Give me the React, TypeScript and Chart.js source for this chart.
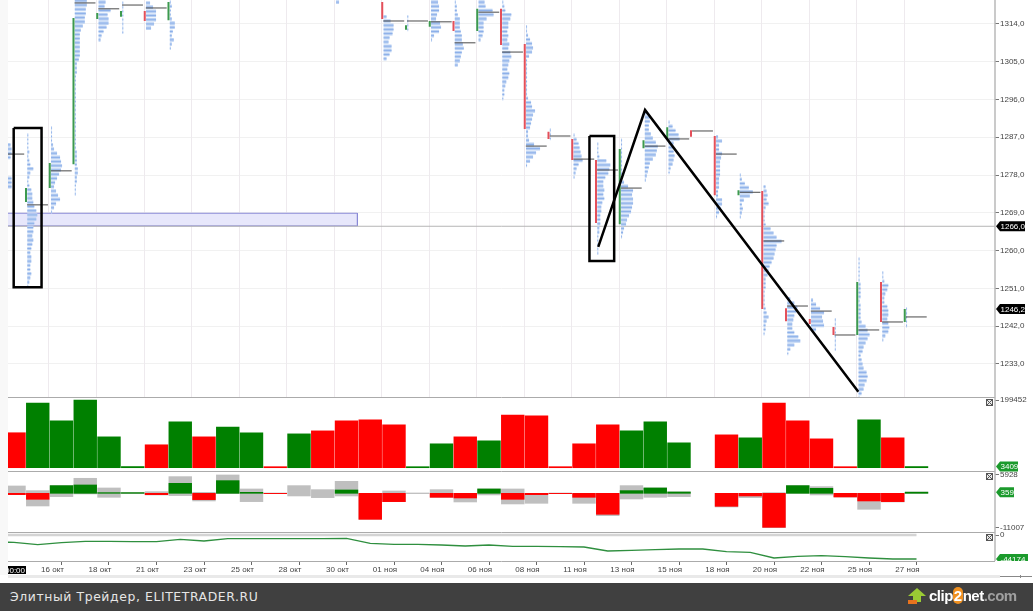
import React, { useEffect, useRef } from "react";
import { Chart, registerables } from "chart.js";

Chart.register(...registerables);

// ---- axes / categories
const dayTickIndex = [2, 4, 6, 8, 10, 12, 14, 16, 18, 20, 22, 24, 26, 28, 30, 32, 34, 36, 38];
const dayTickLabels = ["16 окт", "18 окт", "21 окт", "23 окт", "25 окт", "28 окт", "30 окт", "01 ноя", "04 ноя", "06 ноя", "08 ноя", "11 ноя", "13 ноя", "15 ноя", "18 ноя", "20 ноя", "22 ноя", "25 ноя", "27 ноя"];
const priceTicks = [1314, 1305, 1296, 1287, 1278, 1269, 1260, 1251, 1242, 1233];
const volumeTicks = [199452];
const deltaTicks = [5928, -11007];
const cumTicks = [0];

// ---- volume panel
const volumeValues = [103000, 190600, 137900, 199452, 90900, 3400, 67500, 134900, 90900, 120000, 102700, 3000, 99700, 108500, 137900, 140800, 126100, 3000, 70400, 90900, 79200, 155400, 152500, 3000, 70400, 126100, 108500, 134900, 73300, null, 96800, 88000, 190600, 137900, 85000, 3000, 140800, 88000, 3409];
const volumeUp = ["r", "g", "g", "g", "g", "g", "r", "g", "r", "g", "g", "r", "g", "r", "r", "r", "r", "g", "g", "r", "g", "r", "r", "r", "r", "r", "g", "g", "g", "x", "r", "g", "r", "r", "r", "r", "g", "r", "g"];

// ---- delta panel
const deltaNet = [-424, -1908, 2438, 2650, 212, 212, -424, 3180, -2014, 4028, 318, -100, null, null, 1060, -8268, -2650, null, -1272, -1484, 1378, -1908, -424, -100, -1272, -6678, 848, 1696, 424, null, -4134, -848, -10812, 2438, 1590, -1166, -2438, -2650, 359];
const deltaHigh = [2332, 848, 2438, 4770, 1696, 212, 530, 5300, 318, 5830, 1378, 106, 2438, 1166, 3816, 0, 742, 106, 1166, 0, 1378, 1378, 0, 106, 0, 0, 2438, 1696, 424, null, 0, 0, 212, 2438, 2120, 0, 0, 0, 424];
const deltaLow = [-318, -4028, -1060, -212, -1272, -106, -530, -742, -2438, -106, -2650, -106, -848, -1378, -848, -8268, -2650, -106, -1272, -2756, -530, -3392, -3180, -106, -3180, -7102, -1802, -1272, -1060, null, -4346, -1378, -10918, 0, -530, -1166, -5088, -2756, 0];

// ---- cumulative delta panel
const cumIndex = [-1, 0, 1, 2, 3, 4, 5, 6, 7, 8, 9, 10, 11, 12, 13, 14, 15, 16, 17, 18, 19, 20, 21, 22, 23, 24, 25, 26, 27, 28, 29, 30, 31, 32, 33, 34, 35, 36, 37, 38];
const cumValues = [-12800, -13497, -17792, -14111, -11657, -11657, -12270, -12270, -7976, -11043, -6749, -6749, -6749, -6749, -6749, -6135, -15338, -17178, -17178, -18405, -20246, -18405, -20859, -20859, -21473, -22086, -29448, -28221, -26994, -25767, -25767, -30675, -31902, -42332, -39264, -38037, -39878, -42332, -44174, -44174];
const cumBandValue = 0;

// ---- session candles (open-close body)
const candleIndex = [1, 2, 3, 4, 5, 6, 7, 16, 17, 18, 19, 20, 21, 22, 23, 24, 25, 26, 27, 28, 29, 30, 31, 32, 33, 34, 35, 36, 37, 38];
const candleHigh = [1274.9, 1280.9, 1315.4, 1316.6, 1317.1, 1317.1, 1319.2, 1319.2, 1313.7, 1314.7, 1314.7, 1317.6, 1317.6, 1309.2, 1288.3, 1286.6, 1281.6, 1284.2, 1286.3, 1289.4, 1288.7, 1287.3, 1274.4, 1274.2, 1246.3, 1243.7, 1241.8, 1252.5, 1252.5, 1246.1];
const candleLow = [1271.6, 1274.9, 1280.6, 1315.2, 1315.7, 1314.7, 1314.9, 1315.2, 1312.6, 1313.3, 1312.3, 1312.3, 1309, 1289, 1286.6, 1281.6, 1266.6, 1266.3, 1284.4, 1286.8, 1287.1, 1273.2, 1273.2, 1246.1, 1243.2, 1242.5, 1239.9, 1239.9, 1243, 1243];
const candleDir = ["g", "g", "g", "g", "g", "r", "g", "r", "g", "g", "r", "g", "r", "r", "r", "r", "r", "g", "g", "g", "r", "r", "g", "r", "r", "r", "r", "g", "r", "g"];

// ---- point of control per session
const pocIndex = [0, 1, 2, 3, 4, 5, 6, 16, 17, 18, 19, 20, 21, 22, 23, 24, 25, 26, 27, 28, 29, 30, 31, 32, 33, 34, 35, 36, 37, 38];
const pocPrice = [1283, 1270.9, 1279, 1319, 1317.6, 1318.5, 1317.8, 1314.7, 1314.7, 1314.5, 1309.5, 1316.8, 1307.3, 1284.9, 1287.3, 1281.8, 1279.2, 1274.9, 1284.9, 1286.6, 1288.5, 1283, 1273.9, 1262.3, 1246.8, 1245.6, 1239.9, 1241.1, 1243, 1244.2];

// ---- volume profiles: session, top price, volume per 1-point row going down
const profileIndex = [0, 1, 2, 3, 4, 5, 6, 7, 14, 16, 17, 18, 19, 20, 21, 22, 23, 24, 25, 26, 27, 28, 30, 31, 32, 33, 34, 35, 36, 37, 38];
const profileTop = [1285.2, 1287.5, 1289.2, 1319.5, 1319.2, 1319, 1319, 1319.2, 1319.2, 1315.7, 1315.7, 1319.2, 1319.2, 1319.2, 1319.2, 1313.3, 1288.7, 1287.5, 1285.4, 1286.3, 1292.8, 1290.6, 1287.1, 1278, 1275.2, 1248.5, 1248.2, 1243.5, 1258, 1254.7, 1246.1];
const profileVolumes = [
  [7, 8, 8, 7, 0, 0, 0, 0, 8, 8, 8],
  [1, 1, 1, 1, 2, 1, 2, 3, 6, 3, 2, 1, 2, 4, 5, 5, 6, 7, 9, 10, 9, 7, 6, 6, 5, 6, 5, 4, 3, 4, 4, 3, 3, 4, 3, 2, 1],
  [1, 1, 1, 1, 2, 3, 6, 9, 10, 11, 10, 8, 6, 4, 3, 5, 7, 9, 5, 3, 1],
  [12, 12, 11, 11, 10, 10, 8, 6, 5, 5, 5, 5, 5, 5, 4, 2, 2, 2, 1, 1, 1, 1, 1, 1, 1, 1, 1, 1, 1, 1, 1, 1, 1, 1, 1, 1, 2, 2, 2, 2, 3, 3, 2, 2, 1, 1, 1],
  [7, 6, 12, 9, 10, 10, 8, 5, 3, 2],
  [1, 1, 1, 1, 1, 1, 1, 1],
  [4, 7, 10, 10, 10, 8, 5],
  [1, 2, 1, 1, 2, 5, 5, 3, 2, 4, 2, 1],
  [3],
  [3, 7, 10, 10, 9, 6, 5, 8, 8, 6, 3],
  [1, 1, 1, 1],
  [7, 8, 8, 6, 5, 9, 10, 8, 3, 1],
  [1, 2, 2, 3, 5, 5, 5, 6, 7, 7, 8, 9, 7, 6, 5, 3],
  [6, 7, 14, 15, 8, 5, 5, 5, 4, 2],
  [1, 2, 3, 9, 8, 6, 6, 5, 6, 5, 7, 6, 8, 9, 7, 6, 5, 7, 6, 4, 3, 2, 2, 1],
  [1, 1, 2, 4, 6, 7, 6, 3, 1, 1, 1, 1, 1, 1, 1, 1, 1, 2, 5, 6, 9, 7, 6, 5, 4, 2, 2, 3, 8, 14, 10, 7, 4, 1],
  [1, 1, 1],
  [1, 3, 5, 6, 7, 8, 9, 5, 3, 2, 1],
  [1, 1, 1, 2, 9, 13, 12, 11, 8, 6, 6, 7, 6, 7, 5, 4, 4, 3, 3, 3, 2, 2, 1, 1, 1, 1, 1],
  [1, 1, 1, 1, 1, 1, 1, 1, 1, 1, 3, 7, 12, 11, 12, 12, 11, 10, 8, 6, 5, 3, 2, 1],
  [3, 5, 5, 4, 4, 6, 8, 11, 13, 12, 11, 8, 5, 4, 3, 2, 1],
  [1, 4, 7, 10, 11, 5, 5, 5, 6, 5, 4, 2, 1],
  [2, 6, 3, 3, 6, 5, 4, 4, 4, 4, 3, 3, 3, 2, 2, 6, 6, 5, 3, 1],
  [1, 2, 5, 9, 13, 10, 4, 2, 3, 2, 1],
  [2, 3, 4, 3, 5, 2, 1, 1, 1, 2, 7, 10, 13, 18, 13, 12, 11, 10, 8, 6, 5, 4, 2, 2, 2, 1, 1, 1, 1, 2, 3, 5, 3, 2, 2, 1],
  [3, 7, 10, 9, 7, 6, 5, 5, 7, 11, 13, 7, 3, 1],
  [2, 5, 9, 13, 11, 12, 13, 5],
  [1, 1, 1, 1, 1, 1, 1, 1],
  [1, 1, 1, 1, 1, 1, 2, 2, 2, 2, 1, 2, 2, 2, 2, 3, 7, 9, 11, 9, 7, 5, 4, 2, 3, 4, 5, 8, 9, 8, 6, 5, 3, 1],
  [1, 1, 2, 6, 5, 3, 2, 2, 5, 6, 6, 5, 6, 7, 6, 3, 1],
  [1, 1, 1, 1, 1],
];

// ---- annotations on the price panel
const zoneStartIndex = -1;
const zoneEndIndex = 14.46;
const zoneTop = 1268.9;
const zoneBottom = 1265.9;
const levelPrice = 1265.8;
const boxOneIndex = [-0.013, 1.16];
const boxOnePrice = [1289.2, 1251.3];
const boxTwoIndex = [24.23, 25.27];
const boxTwoPrice = [1287.3, 1257.5];
const zigzagIndex = [24.6, 26.57, 35.55];
const zigzagPrice = [1260.9, 1293.5, 1226.4];
const gridIndex = [1.44, 3.45, 5.47, 7.47, 9.46, 11.46, 13.47, 15.47, 17.47, 19.47, 21.47, 23.47, 25.47, 27.47, 29.47, 31.47, 33.47, 35.47, 37.47];

const pillPrices = [levelPrice, 1246.1];
const pillPriceTexts = ["1266,0", "1246,2"];
const lastVolume = 3409;
const lastDelta = 359;
const lastCum = -44174;

// ---- drawing style constants
const GREEN = "#008000";
const RED = "#ff0000";
const GREY = "#bfbfbf";
const AXIS_FONT = { family: "'Liberation Sans', Arial, sans-serif", size: 8 };
const DAY_PX = 23.75;
const EDGE = -0.44;
const volUnit = 1 / DAY_PX;

type Pt = { x: number; y: number };

function segs(list: [number, number, number, number][]): Pt[] {
  const out: Pt[] = [];
  list.forEach(([x1, y1, x2, y2]) => {
    out.push({ x: x1, y: y1 }, { x: x2, y: y2 }, { x: x2, y: NaN });
  });
  return out;
}

function rect(xs: number[], ys: number[]): Pt[] {
  return [
    { x: xs[0], y: ys[0] },
    { x: xs[1], y: ys[0] },
    { x: xs[1], y: ys[1] },
    { x: xs[0], y: ys[1] },
    { x: xs[0], y: ys[0] },
  ];
}

const lineBase = {
  type: "line",
  xAxisID: "x",
  yAxisID: "yMain",
  pointRadius: 0,
  pointHoverRadius: 0,
  tension: 0,
  fill: false,
  spanGaps: false,
  borderCapStyle: "butt",
  borderJoinStyle: "miter",
};

const overlay = {
  id: "overlay",
  beforeDatasetsDraw(chart: any) {
    const { ctx, chartArea, scales } = chart;
    ctx.save();
    ctx.fillStyle = "#f8f8f8";
    ctx.fillRect(0, 0, chartArea.left, 575);
    ctx.strokeStyle = "#eeeaee";
    ctx.lineWidth = 1;
    gridIndex.forEach((v) => {
      const x = Math.round(scales.x.getPixelForValue(v)) + 0.5;
      ctx.beginPath();
      ctx.moveTo(x, 0);
      ctx.lineTo(x, scales.yMain.bottom);
      ctx.stroke();
    });
    ctx.restore();
  },
  afterDraw(chart: any) {
    const { ctx, chartArea, scales } = chart;
    ctx.save();
    ctx.strokeStyle = "#ababab";
    ctx.lineWidth = 1;
    [scales.yMain.bottom, scales.yVol.bottom, scales.yDelta.bottom, scales.yCum.bottom].forEach((y: number) => {
      ctx.beginPath();
      ctx.moveTo(chartArea.left, Math.round(y) + 0.5);
      ctx.lineTo(chartArea.right, Math.round(y) + 0.5);
      ctx.stroke();
    });
    ctx.strokeStyle = "#b8b8b8";
    ctx.lineWidth = 1.5;
    ctx.beginPath();
    ctx.moveTo(chartArea.right, 0);
    ctx.lineTo(chartArea.right, chartArea.bottom);
    ctx.stroke();

    // scroll strip under the date axis
    ctx.fillStyle = "#e9e9e9";
    ctx.fillRect(chartArea.left, 575, 992, 3);
    ctx.fillStyle = "#888";
    ctx.fillRect(1000, 576, 32, 1);
    ctx.fillRect(1020, 575, 1, 3);

    const pill = (y: number, text: string, right: number, fill: string) => {
      const tip = chartArea.right + 1;
      ctx.fillStyle = fill;
      ctx.beginPath();
      ctx.moveTo(tip, y);
      ctx.lineTo(tip + 4, y - 5);
      ctx.lineTo(right, y - 5);
      ctx.lineTo(right, y + 5);
      ctx.lineTo(tip + 4, y + 5);
      ctx.closePath();
      ctx.fill();
      ctx.fillStyle = "#fff";
      ctx.font = "8px 'Liberation Sans', Arial, sans-serif";
      ctx.textAlign = "left";
      ctx.textBaseline = "middle";
      ctx.fillText(text, tip + 4.5, y + 0.5);
    };
    pillPrices.forEach((p, i) => pill(scales.yMain.getPixelForValue(p), pillPriceTexts[i], 1025, "#000"));
    pill(scales.yVol.getPixelForValue(lastVolume), String(lastVolume), 1018, "#1b9a2c");
    pill(scales.yDelta.getPixelForValue(lastDelta), String(lastDelta), 1014, "#1b9a2c");
    ctx.save();
    ctx.beginPath();
    ctx.rect(chartArea.right, scales.yCum.top, 40, scales.yCum.bottom - scales.yCum.top);
    ctx.clip();
    pill(scales.yCum.getPixelForValue(lastCum), String(lastCum), 1028, "#1b9a2c");
    ctx.restore();

    // collapse boxes
    [scales.yVol.top + 2, scales.yDelta.top + 2, scales.yCum.top + 2].forEach((y: number) => {
      const x = chartArea.right - 9;
      ctx.strokeStyle = "#555";
      ctx.lineWidth = 1;
      ctx.fillStyle = "#e8e8e8";
      ctx.fillRect(x, y, 7, 7);
      ctx.strokeRect(x + 0.5, y + 0.5, 6, 6);
      ctx.beginPath();
      ctx.moveTo(x + 1, y + 1);
      ctx.lineTo(x + 6, y + 6);
      ctx.moveTo(x + 6, y + 1);
      ctx.lineTo(x + 1, y + 6);
      ctx.stroke();
    });

    // time label at the crosshair
    ctx.save();
    ctx.beginPath();
    ctx.rect(chartArea.left, chartArea.bottom, 18, 16);
    ctx.clip();
    ctx.fillStyle = "#000";
    ctx.fillRect(chartArea.left, chartArea.bottom + 5, 18, 8);
    ctx.fillStyle = "#fff";
    ctx.font = "8px 'Liberation Sans', Arial, sans-serif";
    ctx.textAlign = "right";
    ctx.textBaseline = "middle";
    ctx.fillText("00:00", chartArea.left + 17, chartArea.bottom + 9.5);
    ctx.restore();
    ctx.restore();
  },
};

function yAxis(min: number, max: number, ticks: number[], weight: number, fmt: (v: number) => string, grid: boolean) {
  return {
    type: "linear",
    position: "right",
    axis: "y",
    stack: "panels",
    stackWeight: weight,
    min,
    max,
    border: { display: false },
    grid: { display: true, drawOnChartArea: grid, color: "#f1f1f1", tickColor: "#777", tickLength: 4, lineWidth: 1 },
    ticks: { font: AXIS_FONT, color: "#444", padding: 1, autoSkip: false, callback: (v: number) => fmt(v) },
    afterBuildTicks: (s: any) => {
      s.ticks = ticks.map((value) => ({ value }));
    },
    afterFit: (s: any) => {
      s.width = 38;
      s.paddingTop = 0;
      s.paddingBottom = 0;
    },
  };
}

export default function App() {
  const ref = useRef<HTMLCanvasElement | null>(null);

  useEffect(() => {
    if (!ref.current) return;

    const rows: Pt[] = [];
    profileIndex.forEach((s, k) => {
      profileVolumes[k].forEach((v, r) => {
        if (v <= 0) return;
        const y = profileTop[k] - r;
        const x0 = s + EDGE;
        rows.push({ x: x0, y }, { x: x0 + v * volUnit, y }, { x: x0, y: NaN });
      });
    });
    const candle = (dir: string) =>
      segs(
        candleIndex
          .map((s, k) => ({ s, k }))
          .filter(({ k }) => candleDir[k] === dir)
          .map(({ s, k }) => [s - 0.495, candleHigh[k], s - 0.495, candleLow[k]] as [number, number, number, number])
      );
    const poc = segs(pocIndex.map((s, k) => [s - 0.45, pocPrice[k], s + 0.43, pocPrice[k]] as [number, number, number, number]));

    const volData = volumeValues.map((y, x) => ({ x, y })).filter((p) => p.y !== null);
    const volColors = volData.map((p) => (volumeUp[p.x] === "g" ? GREEN : RED));
    const rangeData = deltaHigh.map((h, x) => ({ x, y: [deltaLow[x], h] })).filter((p) => p.y[1] !== null);
    const netData = deltaNet.map((y, x) => ({ x, y })).filter((p) => p.y !== null);
    const netColors = netData.map((p) => ((p.y as number) >= 0 ? GREEN : RED));

    const chart = new Chart(ref.current, {
      type: "bar",
      data: {
        datasets: [
          {
            ...lineBase,
            label: "zone fill",
            order: 30,
            data: [
              { x: zoneStartIndex, y: zoneTop },
              { x: zoneEndIndex, y: zoneTop },
            ],
            borderWidth: 0,
            fill: { target: { value: zoneBottom } },
            backgroundColor: "#e7e7fb",
          },
          {
            ...lineBase,
            label: "zone border",
            order: 29,
            data: rect([zoneStartIndex, zoneEndIndex], [zoneTop, zoneBottom]),
            borderColor: "#8a8ad6",
            borderWidth: 1,
          },
          {
            ...lineBase,
            label: "level",
            order: 28,
            data: [
              { x: -1, y: levelPrice },
              { x: 42, y: levelPrice },
            ],
            borderColor: "#b5b5b5",
            borderWidth: 1,
          },
          { ...lineBase, label: "profile", order: 20, data: rows, borderColor: "#bcd2f3", borderWidth: 3.6 },
          { ...lineBase, label: "profile rows", order: 19, data: rows, borderColor: "#7fa6e6", borderWidth: 0.8 },
          { ...lineBase, label: "poc", order: 15, data: poc, borderColor: "#4a4a4a", borderWidth: 1 },
          { ...lineBase, label: "up", order: 12, data: candle("g"), borderColor: "#3c9a4e", borderWidth: 2 },
          { ...lineBase, label: "down", order: 11, data: candle("r"), borderColor: "#e4505a", borderWidth: 2 },
          { ...lineBase, label: "box 1", order: 2, data: rect(boxOneIndex, boxOnePrice), borderColor: "#000", borderWidth: 2.5 },
          { ...lineBase, label: "box 2", order: 2, data: rect(boxTwoIndex, boxTwoPrice), borderColor: "#000", borderWidth: 2.5 },
          {
            ...lineBase,
            label: "zigzag",
            order: 1,
            data: zigzagIndex.map((x, i) => ({ x, y: zigzagPrice[i] })),
            borderColor: "#000",
            borderWidth: 2.5,
          },
          {
            type: "bar",
            label: "volume",
            order: 10,
            xAxisID: "x",
            yAxisID: "yVol",
            grouped: false,
            barThickness: 22.75,
            data: volData,
            backgroundColor: volColors,
            borderWidth: 0,
          },
          {
            type: "bar",
            label: "delta range",
            order: 10,
            xAxisID: "x",
            yAxisID: "yDelta",
            grouped: false,
            barThickness: 22.75,
            data: rangeData,
            backgroundColor: GREY,
            borderWidth: 0,
          },
          {
            type: "bar",
            label: "delta",
            order: 9,
            xAxisID: "x",
            yAxisID: "yDelta",
            grouped: false,
            barThickness: 22.75,
            data: netData,
            backgroundColor: netColors,
            borderWidth: 0,
          },
          {
            ...lineBase,
            label: "cum band",
            order: 8,
            yAxisID: "yCum",
            data: cumIndex.map((x) => ({ x, y: cumBandValue })),
            borderColor: "#d4d4d4",
            borderWidth: 2.5,
          },
          {
            ...lineBase,
            label: "cum delta",
            order: 7,
            yAxisID: "yCum",
            data: cumIndex.map((x, i) => ({ x, y: cumValues[i] })),
            borderColor: "#2f8f3f",
            borderWidth: 1.4,
          },
        ],
      } as any,
      options: {
        responsive: false,
        animation: false,
        devicePixelRatio: 1,
        layout: { padding: { left: 8, top: 0, right: 0, bottom: 0 } },
        plugins: { legend: { display: false }, tooltip: { enabled: false } },
        events: [],
        scales: {
          x: {
            type: "linear",
            axis: "x",
            position: "bottom",
            offset: false,
            min: -0.2526,
            max: 41.305,
            border: { display: false },
            grid: { display: true, offset: false, drawOnChartArea: false, tickColor: "#666", tickLength: 4 },
            ticks: {
              font: AXIS_FONT,
              color: "#444",
              padding: 0,
              autoSkip: false,
              maxRotation: 0,
              minRotation: 0,
              labelOffset: -9,
              callback: (v: number) => {
                const i = dayTickIndex.indexOf(v);
                return i >= 0 ? dayTickLabels[i] : "";
              },
            },
            afterBuildTicks: (s: any) => {
              s.ticks = dayTickIndex.map((value) => ({ value }));
            },
            afterFit: (s: any) => {
              s.height = 22;
              s.paddingLeft = 0;
              s.paddingRight = 0;
            },
          },
          yMain: yAxis(1225.13, 1319.7, priceTicks, 397, (v) => `${v},0`, true),
          yVol: yAxis(-9700, 208300, volumeTicks, 74, (v) => String(v), false),
          yDelta: yAxis(-12300, 7090, deltaTicks, 61, (v) => String(v), false),
          yCum: yAxis(-47840, 5520, cumTicks, 29, (v) => String(v), false),
        },
      } as any,
      plugins: [overlay],
    });

    return () => chart.destroy();
  }, []);

  return (
    <div style={{ position: "absolute", left: 0, top: 0, width: 1033, height: 611, background: "#fff", overflow: "hidden" }}>
      <canvas ref={ref} width={1033} height={583} style={{ display: "block" }} />
      <div
        style={{
          position: "absolute",
          left: 0,
          top: 583,
          width: 1033,
          height: 28,
          background: "#404040",
          color: "#e6e6e6",
          fontFamily: "'DejaVu Sans', sans-serif",
          fontSize: 12.4,
          lineHeight: "28px",
          letterSpacing: 0.6,
        }}
      >
        <span style={{ position: "absolute", left: 10, top: 0 }}>Элитный Трейдер, ELITETRADER.RU</span>
        <svg style={{ position: "absolute", left: 908, top: 5 }} width="18" height="16" viewBox="0 0 18 16">
          <polygon points="9,0 18,8 13,8 13,14 5,14 5,8 0,8" fill="#9acb34" />
          <rect x="0" y="12" width="9" height="4" fill="#e8731e" />
        </svg>
        <span
          style={{
            position: "absolute",
            left: 929,
            top: -1,
            fontFamily: "'Liberation Sans', Arial, sans-serif",
            fontWeight: 700,
            fontSize: 15,
            letterSpacing: -0.5,
            color: "#fff",
          }}
        >
          clip<span style={{ color: "#fff", background: "#f09020", borderRadius: 8, padding: "0 1px" }}>2</span>net<span style={{ color: "#a0a0a0" }}>.com</span>
        </span>
      </div>
    </div>
  );
}
